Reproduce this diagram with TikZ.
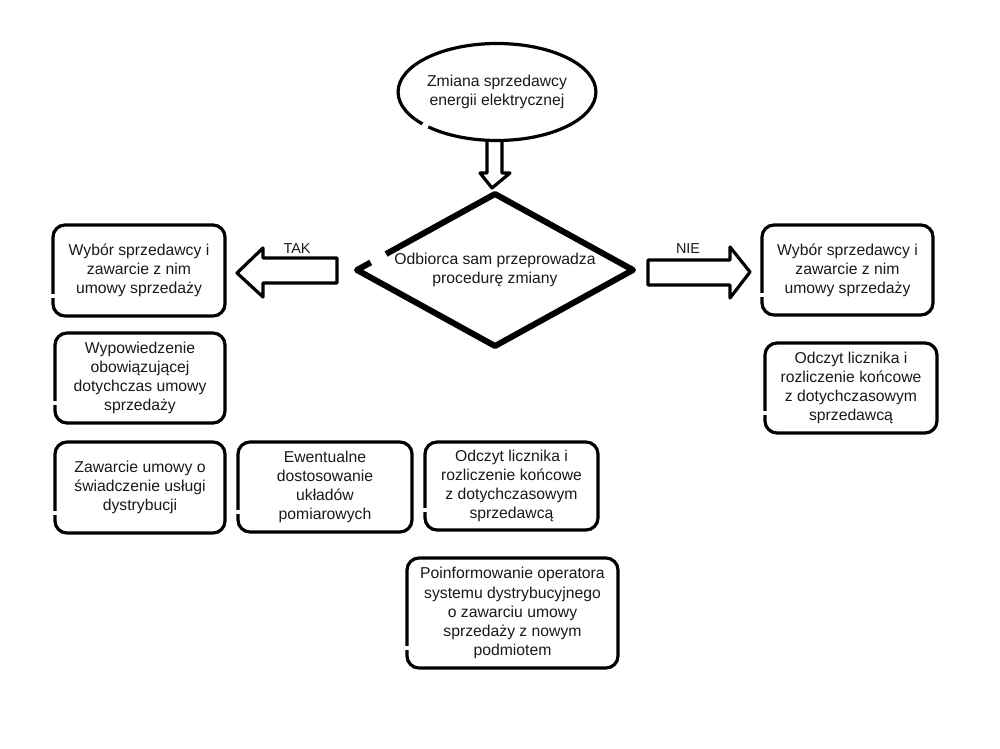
\documentclass[tikz,border=0pt]{standalone}
\usepackage{fontspec}
\setmainfont{Liberation Sans}
\usetikzlibrary{shapes.geometric,calc}
\begin{document}
\begin{tikzpicture}[x=0.75pt,y=-0.75pt,
  txt/.style={align=center, font=\fontsize{11.8}{14.3}\selectfont, text=black!90, outer sep=0pt},
  box/.style={txt, draw, line width=2.4pt, rounded corners=9pt, inner sep=0pt},
  blockarrow/.style={draw, line width=2.4pt, line join=round, line cap=round},
  gap/.style={draw=white, line width=5pt},
  lbl/.style={font=\fontsize{10.8}{12}\selectfont, text=black!90, inner sep=0pt}]
\useasboundingbox (0,0) rectangle (1000,749);

% start ellipse
\node[txt, ellipse, draw, line width=2.4pt, minimum width=147.75pt, minimum height=72.75pt, inner sep=0pt] (start) at (497,92) {Zmiana sprzedawcy\\energii elektrycznej};

% decision diamond
\node[txt, diamond, draw, line width=4.5pt, line join=round, aspect=1.8, minimum width=207pt, minimum height=114pt, inner sep=0pt] (dec) at (495,270) {Odbiorca sam przeprowadza\\procedurę zmiany};

% left column
\node[box, minimum width=129pt, minimum height=68.25pt] (l1) at (139,270.5) {Wybór sprzedawcy i\\zawarcie z nim\\umowy sprzedaży};
\node[box, minimum width=127.5pt, minimum height=67.5pt] (l2) at (140,378) {Wypowiedzenie\\obowiązującej\\dotychczas umowy\\sprzedaży};
\node[box, minimum width=127.5pt, minimum height=68.25pt] (l3) at (140,487.5) {Zawarcie umowy o\\świadczenie usługi\\dystrybucji};

% middle
\node[box, minimum width=130.5pt, minimum height=67.5pt] (m1) at (325,487) {Ewentualne\\dostosowanie\\układów\\pomiarowych};
\node[box, minimum width=129.75pt, minimum height=66pt] (m2) at (511.5,486) {Odczyt licznika i\\rozliczenie końcowe\\z dotychczasowym\\sprzedawcą};
\node[box, minimum width=158.25pt, minimum height=82.5pt] (m3) at (512.5,613) {Poinformowanie operatora\\systemu dystrybucyjnego\\o zawarciu umowy\\sprzedaży z nowym\\podmiotem};

% right column
\node[box, minimum width=128.25pt, minimum height=67.5pt] (r1) at (847.5,270) {Wybór sprzedawcy i\\zawarcie z nim\\umowy sprzedaży};
\node[box, minimum width=129pt, minimum height=67.5pt] (r2) at (851,388) {Odczyt licznika i\\rozliczenie końcowe\\z dotychczasowym\\sprzedawcą};

% sketchy gaps in the outlines
\foreach \n in {l1,l2,l3,m1,m2,m3,r1,r2}
  \draw[gap] ($(\n.south west)+(0,-18)$) -- ++(0,-4);
\fill[white] (start.205) circle[radius=2.6pt];
\draw[gap, line width=7pt] ($(dec.west)!0.1!(dec.north)$) -- ($(dec.west)!0.21!(dec.north)$);

% block arrows
\draw[blockarrow] (487,141) -- (487,173) -- (480,173) -- (492,188) -- (510,173) -- (502,173) -- (502,141);
\draw[blockarrow] (337,258) -- (263,258) -- (263,248) -- (237,273) -- (263,297) -- (263,283) -- (337,283) -- cycle;
\draw[blockarrow] (648,260) -- (730,260) -- (730,247) -- (750,272) -- (730,298) -- (730,285) -- (648,285) -- cycle;

\node[lbl] (tak) at (297,249) {TAK};
\node[lbl] (nie) at (688,249) {NIE};
\end{tikzpicture}
\end{document}
